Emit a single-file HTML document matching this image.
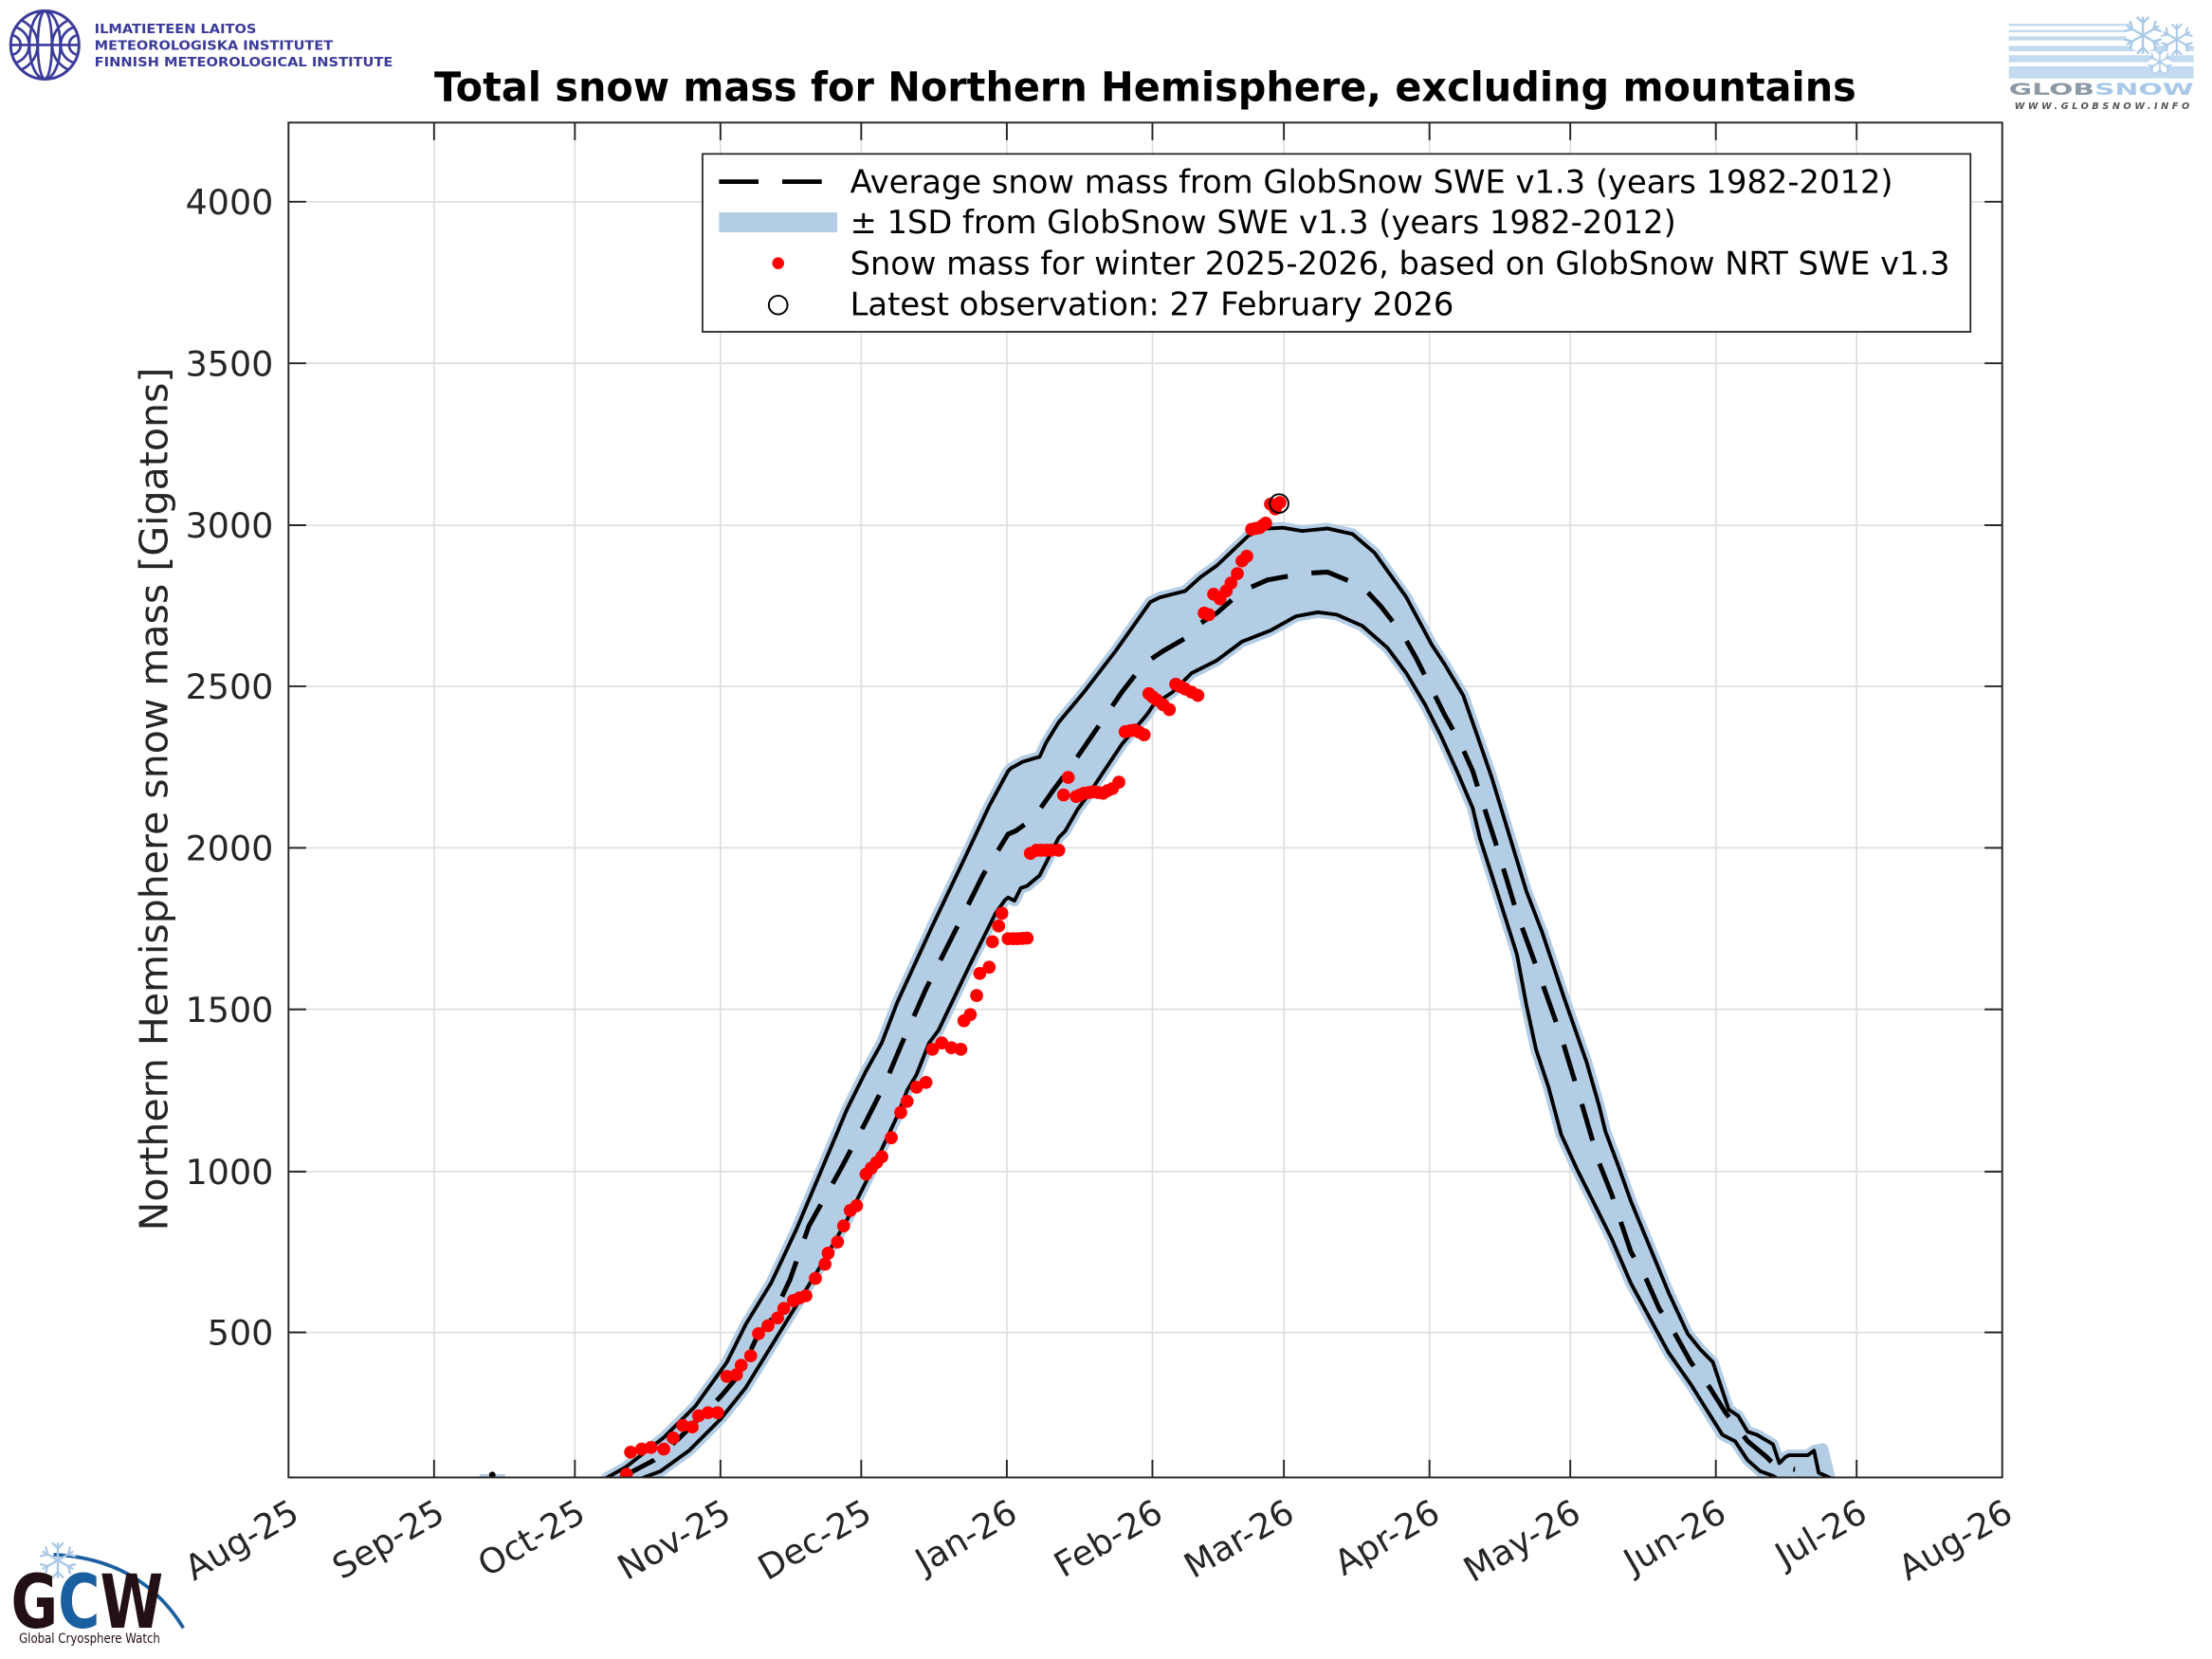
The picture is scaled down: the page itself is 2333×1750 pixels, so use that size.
<!DOCTYPE html>
<html><head><meta charset="utf-8">
<style>
html,body{margin:0;padding:0;background:#fff;}
svg{display:block;}
text{font-family:"DejaVu Sans","Liberation Sans",sans-serif;}
</style></head>
<body>
<svg xmlns="http://www.w3.org/2000/svg" width="2333" height="1750" viewBox="0 0 1568 1176" preserveAspectRatio="none">
<defs>
<clipPath id="plot"><rect x="204.5" y="86.9" width="1214.8" height="960.4"/></clipPath>
<clipPath id="fmi"><circle cx="31.8" cy="31.9" r="23.5"/></clipPath>
<g id="flake" fill="none" stroke="#a9c9e8" stroke-width="1.3" stroke-linecap="round">
<path d="M0,-10V10M-8.66,-5L8.66,5M-8.66,5L8.66,-5"/>
<path d="M-3,-10L0,-7L3,-10M-3,10L0,7L3,10M-10.1,-2.4L-6.1,-3.5L-7.1,-7.6M10.1,2.4L6.1,3.5L7.1,7.6M-10.1,2.4L-6.1,3.5L-7.1,7.6M10.1,-2.4L6.1,-3.5L7.1,-7.6"/>
</g>
</defs>
<rect x="0" y="0" width="1568" height="1176" fill="#fff"/>

<!-- FMI logo -->
<g fill="none" stroke="#3b3b9b" stroke-width="2">
<circle cx="31.8" cy="31.9" r="24.2"/>
<g clip-path="url(#fmi)" stroke-width="1.8">
<circle cx="7.6" cy="31.9" r="7"/><circle cx="7.6" cy="31.9" r="13"/><circle cx="7.6" cy="31.9" r="19"/>
<circle cx="56" cy="31.9" r="7"/><circle cx="56" cy="31.9" r="13"/><circle cx="56" cy="31.9" r="19"/>
<ellipse cx="31.8" cy="31.9" rx="5" ry="24"/><ellipse cx="31.8" cy="31.9" rx="11" ry="24"/>
<line x1="7" y1="31.9" x2="57" y2="31.9"/>
</g></g>
<g fill="#3b3b9b" font-weight="bold" font-size="9.2">
<text x="67" y="23.5" textLength="114.7" lengthAdjust="spacingAndGlyphs">ILMATIETEEN LAITOS</text>
<text x="67" y="35.4" textLength="169" lengthAdjust="spacingAndGlyphs">METEOROLOGISKA INSTITUTET</text>
<text x="67" y="47" textLength="211.5" lengthAdjust="spacingAndGlyphs">FINNISH METEOROLOGICAL INSTITUTE</text>
</g>

<!-- GlobSnow logo -->
<g fill="#c3daf0">
<rect x="1424" y="16.8" width="92" height="1.6"/>
<rect x="1424" y="21.3" width="92" height="1.6"/>
<rect x="1424" y="25.7" width="95" height="3"/>
<rect x="1424" y="32.5" width="131" height="3.8"/>
<rect x="1424" y="39.2" width="131" height="4.9"/>
<rect x="1424" y="47" width="131" height="8.6"/>
</g>
<g fill="#fff">
<circle cx="1519" cy="25" r="12"/><circle cx="1543" cy="28" r="10"/><circle cx="1531" cy="44" r="8"/>
</g>
<use href="#flake" transform="translate(1519,25) scale(1.25)"/>
<use href="#flake" transform="translate(1543,28) scale(1.05)"/>
<use href="#flake" transform="translate(1531,44) scale(0.8)"/>
<text x="1424" y="67.2" font-size="11.5" font-weight="bold" textLength="131" lengthAdjust="spacingAndGlyphs"><tspan fill="#8c9aa6">GLOB</tspan><tspan fill="#a7c8e8">SNOW</tspan></text>
<text x="1428" y="77.3" font-size="6.5" font-style="italic" font-weight="bold" fill="#555" textLength="124" lengthAdjust="spacing">WWW.GLOBSNOW.INFO</text>

<!-- GCW logo -->
<path d="M38,1102 Q100,1105 130,1154" fill="none" stroke="#1a5fa0" stroke-width="2.5"/>
<use href="#flake" transform="translate(41,1106) scale(1.2)" style="stroke:#8a98d0"/>
<text x="7.7" y="1153.7" font-family="Liberation Sans, sans-serif" font-weight="bold" font-size="53" textLength="108" lengthAdjust="spacingAndGlyphs"><tspan fill="#231014">G</tspan><tspan fill="#1a5fa0">C</tspan><tspan fill="#231014">W</tspan></text>
<text x="13.5" y="1164.5" font-family="Liberation Sans, sans-serif" font-size="9.5" fill="#231014" textLength="100" lengthAdjust="spacingAndGlyphs">Global Cryosphere Watch</text>

<!-- Title -->
<text x="307.8" y="71.7" font-size="28.5" font-weight="bold" fill="#000" textLength="1008" lengthAdjust="spacingAndGlyphs">Total snow mass for Northern Hemisphere, excluding mountains</text>

<!-- Plot background -->
<rect x="204.5" y="86.9" width="1214.8" height="960.4" fill="#fff"/>

<!-- Grid -->
<g stroke="#dedede" stroke-width="1.1">
<line x1="307.7" y1="86.9" x2="307.7" y2="1047.3"/>
<line x1="407.5" y1="86.9" x2="407.5" y2="1047.3"/>
<line x1="510.7" y1="86.9" x2="510.7" y2="1047.3"/>
<line x1="610.5" y1="86.9" x2="610.5" y2="1047.3"/>
<line x1="713.7" y1="86.9" x2="713.7" y2="1047.3"/>
<line x1="816.9" y1="86.9" x2="816.9" y2="1047.3"/>
<line x1="910.1" y1="86.9" x2="910.1" y2="1047.3"/>
<line x1="1013.3" y1="86.9" x2="1013.3" y2="1047.3"/>
<line x1="1113.1" y1="86.9" x2="1113.1" y2="1047.3"/>
<line x1="1216.3" y1="86.9" x2="1216.3" y2="1047.3"/>
<line x1="1316.1" y1="86.9" x2="1316.1" y2="1047.3"/>
<line x1="204.5" y1="944.5" x2="1419.3" y2="944.5"/>
<line x1="204.5" y1="830.5" x2="1419.3" y2="830.5"/>
<line x1="204.5" y1="715.5" x2="1419.3" y2="715.5"/>
<line x1="204.5" y1="601" x2="1419.3" y2="601"/>
<line x1="204.5" y1="486.5" x2="1419.3" y2="486.5"/>
<line x1="204.5" y1="372.3" x2="1419.3" y2="372.3"/>
<line x1="204.5" y1="257.5" x2="1419.3" y2="257.5"/>
<line x1="204.5" y1="143" x2="1419.3" y2="143"/>
</g>

<!-- Data -->
<g clip-path="url(#plot)">
<polygon fill="#b3cde4" stroke="#b3cde4" stroke-width="8" stroke-linejoin="round" points="430.1,1047.5 443.6,1040 470.5,1019 492.8,996.9 515.3,965.6 528.7,938.7 546.6,909.5 564.5,871.5 582.5,828.9 600.4,786.3 613.8,759.4 625,739.3 636.2,710.2 660.9,656.4 683.3,609.4 701.2,571.3 714.6,546.6 716.9,544.4 725,540 732.6,537.7 737,536.5 741.5,526.5 750.5,512 768.4,490.6 790.8,461.5 815.4,426.8 822,423.5 831.2,421.2 840,419 851.3,408.9 862.5,401 885,379.7 896.1,374.8 909.5,374.1 923,376.4 941,374.6 958.8,378.6 974.5,392 996.9,423.4 1014.9,457 1023.8,470.5 1037.2,492.9 1047,521 1057.4,551.1 1082,631.8 1093.2,660.9 1108.9,707.9 1124.6,752.7 1133.6,784.1 1138,802 1147,826 1156,851.3 1171.7,889.4 1182.8,916.3 1196.3,945.4 1205.3,956.6 1214.2,965.6 1225.4,999.2 1232.1,1003.6 1238.8,1014.9 1245.5,1017.1 1256.8,1023.8 1261.3,1037.2 1265.7,1032.8 1268,1031.6 1281.4,1031.6 1285.9,1028.3 1292,1027 1297.1,1047.5 1259,1047.5 1256.8,1046.2 1247.8,1042.9 1238.8,1035 1229.9,1021.6 1221,1017.1 1209.7,999.2 1198.5,981.2 1182.8,958.8 1169.4,934.2 1156,909.5 1142.5,878.2 1130,853 1117.9,828.9 1106.7,804.3 1097.7,770.7 1088.8,743.8 1082,712.4 1075.3,676.6 1059.7,627.3 1049,594 1044,573 1032.8,546.6 1021.6,522 1010.3,499.6 996.9,477.2 983.5,459.2 965.6,443.6 947.6,435.7 934.2,434 918.5,436.9 900.6,446.9 880.4,454.8 862.5,468.2 844.6,477.2 831.2,490.6 817.7,499.6 813.2,506.3 795.3,527.5 779.6,551.1 770.7,564.5 764,573.5 755,589.2 750.5,593.7 743.8,607.1 737,620.5 728.1,628 723.6,629.5 719.1,638.5 714.6,636.2 712.4,638 705.7,647.4 687.8,683.3 665.3,730.3 658.6,739.3 649.7,761.7 643,773 636.2,790.8 618.3,828.9 600.4,864.8 582.5,896.1 564.5,925.3 546.6,954.4 528.7,983.5 510.8,1005.9 488.4,1028.3 468.2,1042.9 455.9,1047.5"/>
<line x1="340" y1="1046.5" x2="358" y2="1046.5" stroke="#b3cde4" stroke-width="3"/>
<circle cx="349" cy="1045.5" r="2.3" fill="#000"/>

<g fill="none" stroke="#000" stroke-width="2.6" stroke-linejoin="round" stroke-linecap="round">
<polyline points="430.1,1047.5 443.6,1040 470.5,1019 492.8,996.9 515.3,965.6 528.7,938.7 546.6,909.5 564.5,871.5 582.5,828.9 600.4,786.3 613.8,759.4 625,739.3 636.2,710.2 660.9,656.4 683.3,609.4 701.2,571.3 714.6,546.6 716.9,544.4 725,540 732.6,537.7 737,536.5 741.5,526.5 750.5,512 768.4,490.6 790.8,461.5 815.4,426.8 822,423.5 831.2,421.2 840,419 851.3,408.9 862.5,401 885,379.7 896.1,374.8 909.5,374.1 923,376.4 941,374.6 958.8,378.6 974.5,392 996.9,423.4 1014.9,457 1023.8,470.5 1037.2,492.9 1047,521 1057.4,551.1 1082,631.8 1093.2,660.9 1108.9,707.9 1124.6,752.7 1133.6,784.1 1138,802 1147,826 1156,851.3 1171.7,889.4 1182.8,916.3 1196.3,945.4 1205.3,956.6 1214.2,965.6 1225.4,999.2 1232.1,1003.6 1238.8,1014.9 1245.5,1017.1 1256.8,1023.8 1261.3,1037.2 1265.7,1032.8 1268,1031.6 1281.4,1031.6 1285.9,1028.3 1289.2,1044 1297.1,1047.5"/>
<polyline points="455.9,1047.5 468.2,1042.9 488.4,1028.3 510.8,1005.9 528.7,983.5 546.6,954.4 564.5,925.3 582.5,896.1 600.4,864.8 618.3,828.9 636.2,790.8 643,773 649.7,761.7 658.6,739.3 665.3,730.3 687.8,683.3 705.7,647.4 712.4,638 714.6,636.2 719.1,638.5 723.6,629.5 728.1,628 737,620.5 743.8,607.1 750.5,593.7 755,589.2 764,573.5 770.7,564.5 779.6,551.1 795.3,527.5 813.2,506.3 817.7,499.6 831.2,490.6 844.6,477.2 862.5,468.2 880.4,454.8 900.6,446.9 918.5,436.9 934.2,434 947.6,435.7 965.6,443.6 983.5,459.2 996.9,477.2 1010.3,499.6 1021.6,522 1032.8,546.6 1044,573 1049,594 1059.7,627.3 1075.3,676.6 1082,712.4 1088.8,743.8 1097.7,770.7 1106.7,804.3 1117.9,828.9 1130,853 1142.5,878.2 1156,909.5 1169.4,934.2 1182.8,958.8 1198.5,981.2 1209.7,999.2 1221,1017.1 1229.9,1021.6 1238.8,1035 1247.8,1042.9 1256.8,1046.2 1259,1047.5"/>
</g>
<polyline fill="none" stroke="#000" stroke-width="3.4" stroke-dasharray="27 17" points="440,1047.5 463.7,1035 481.7,1019.3 510.8,990 524,974.5 537.7,945.4 546.5,936 560,907 573.4,869 595.9,828.8 613.8,795 627.3,768.3 638.5,741.5 656.4,701 676.6,660.8 696.7,620.5 714.5,591.4 720,589 732.6,580 746,561 757.2,546 770.7,526.5 795.2,490.6 811,470.5 824.4,461.5 840,452.5 844.6,445.8 862.5,434.6 880.4,419 898.4,411.1 923,406.6 941,405.5 965.6,415.6 979,430 994.7,450.3 1003.6,466 1014.9,488.4 1023.8,506.3 1035,526.4 1044,546.6 1050,566 1059.7,595.9 1075.3,647.4 1093.2,696.7 1106.7,734.8 1122.4,786.3 1133.6,824.4 1142.5,846.8 1149.2,867 1156,887.2 1167.2,907.3 1176.1,927.5 1187.3,945.4 1198.5,965.6 1211.9,983.5 1223.2,1001.4 1232.1,1012.6 1238.8,1021.6 1252.3,1032.8 1259,1039.5 1272.4,1041.7"/>

<g fill="#ff0000">
<circle cx="444" cy="1045" r="4.6"/><circle cx="447" cy="1029.4" r="4.6"/><circle cx="454.8" cy="1027.2" r="4.6"/><circle cx="461.5" cy="1026" r="4.6"/><circle cx="470.5" cy="1027.2" r="4.6"/><circle cx="477.2" cy="1019.3" r="4.6"/><circle cx="484" cy="1010.4" r="4.6"/><circle cx="490.7" cy="1011.5" r="4.6"/><circle cx="495.2" cy="1003.6" r="4.6"/><circle cx="501.9" cy="1001.4" r="4.6"/><circle cx="508.6" cy="1001.4" r="4.6"/><circle cx="515.3" cy="975.7" r="4.6"/><circle cx="522" cy="974.5" r="4.6"/><circle cx="525.4" cy="967.8" r="4.6"/><circle cx="532.1" cy="961.1" r="4.6"/><circle cx="537.7" cy="945.4" r="4.6"/><circle cx="544.4" cy="939.8" r="4.6"/><circle cx="551.2" cy="934.2" r="4.6"/><circle cx="555.6" cy="927.5" r="4.6"/><circle cx="562.4" cy="921.9" r="4.6"/><circle cx="566.8" cy="920" r="4.6"/><circle cx="571.3" cy="918.5" r="4.6"/><circle cx="578" cy="906.2" r="4.6"/><circle cx="584.8" cy="896.1" r="4.6"/><circle cx="587" cy="888.3" r="4.6"/><circle cx="593.7" cy="880.4" r="4.6"/><circle cx="598" cy="869" r="4.6"/><circle cx="602.7" cy="858" r="4.6"/><circle cx="607.2" cy="854.7" r="4.6"/><circle cx="613.9" cy="832.3" r="4.6"/><circle cx="617.6" cy="828" r="4.6"/><circle cx="621.4" cy="824" r="4.6"/><circle cx="625.1" cy="820" r="4.6"/><circle cx="631.8" cy="806.5" r="4.6"/><circle cx="638.5" cy="788.6" r="4.6"/><circle cx="643" cy="780.7" r="4.6"/><circle cx="649.7" cy="770.7" r="4.6"/><circle cx="656.4" cy="767.3" r="4.6"/><circle cx="661" cy="743.8" r="4.6"/><circle cx="667.6" cy="739.3" r="4.6"/><circle cx="674.4" cy="742.7" r="4.6"/><circle cx="681.1" cy="743.8" r="4.6"/><circle cx="683.3" cy="723.6" r="4.6"/><circle cx="687.8" cy="719.2" r="4.6"/><circle cx="692.3" cy="705.7" r="4.6"/><circle cx="694.5" cy="690" r="4.6"/><circle cx="701.2" cy="685.6" r="4.6"/><circle cx="703.5" cy="667.6" r="4.6"/><circle cx="707.9" cy="656.4" r="4.6"/><circle cx="710.2" cy="647.4" r="4.6"/><circle cx="714.6" cy="665.4" r="4.6"/><circle cx="718" cy="665.4" r="4.6"/><circle cx="721.4" cy="665.4" r="4.6"/><circle cx="724.8" cy="665.2" r="4.6"/><circle cx="728.1" cy="665" r="4.6"/><circle cx="730.4" cy="604.9" r="4.6"/><circle cx="734.8" cy="602.7" r="4.6"/><circle cx="738" cy="602.7" r="4.6"/><circle cx="741.6" cy="602.7" r="4.6"/><circle cx="745" cy="602.7" r="4.6"/><circle cx="750.5" cy="602.7" r="4.6"/><circle cx="753.9" cy="563.5" r="4.6"/><circle cx="757.2" cy="551.1" r="4.6"/><circle cx="762.9" cy="564.6" r="4.6"/><circle cx="765.5" cy="563.5" r="4.6"/><circle cx="768.4" cy="562.3" r="4.6"/><circle cx="771.8" cy="561.8" r="4.6"/><circle cx="775.2" cy="561.2" r="4.6"/><circle cx="778.5" cy="561.8" r="4.6"/><circle cx="781.9" cy="562.3" r="4.6"/><circle cx="785" cy="560.5" r="4.6"/><circle cx="788.6" cy="559" r="4.6"/><circle cx="793.1" cy="554.5" r="4.6"/><circle cx="797.6" cy="518.7" r="4.6"/><circle cx="801" cy="518" r="4.6"/><circle cx="804.3" cy="517.5" r="4.6"/><circle cx="807.5" cy="519" r="4.6"/><circle cx="811" cy="520.9" r="4.6"/><circle cx="814.4" cy="491.7" r="4.6"/><circle cx="817" cy="494" r="4.6"/><circle cx="820" cy="496.2" r="4.6"/><circle cx="824.5" cy="499.6" r="4.6"/><circle cx="828.9" cy="503" r="4.6"/><circle cx="833.4" cy="485" r="4.6"/><circle cx="836.8" cy="486.7" r="4.6"/><circle cx="840.1" cy="488.4" r="4.6"/><circle cx="844.6" cy="490.6" r="4.6"/><circle cx="849.1" cy="492.9" r="4.6"/><circle cx="853.6" cy="434.6" r="4.6"/><circle cx="856.9" cy="435.7" r="4.6"/><circle cx="860.3" cy="421.2" r="4.6"/><circle cx="864.8" cy="424.5" r="4.6"/><circle cx="869.2" cy="418.9" r="4.6"/><circle cx="872.6" cy="413.3" r="4.6"/><circle cx="877.1" cy="406.6" r="4.6"/><circle cx="880.4" cy="397.6" r="4.6"/><circle cx="883.8" cy="394.3" r="4.6"/><circle cx="887.2" cy="375.2" r="4.6"/><circle cx="890" cy="374.6" r="4.6"/><circle cx="892.8" cy="374.1" r="4.6"/><circle cx="894.9" cy="372.5" r="4.6"/><circle cx="897.2" cy="370.8" r="4.6"/><circle cx="900.6" cy="357.3" r="4.6"/><circle cx="904" cy="360.7" r="4.6"/><circle cx="907.3" cy="356.2" r="4.6"/>
</g>
<circle cx="906.7" cy="356.9" r="6.6" fill="none" stroke="#000" stroke-width="1.3"/>
</g>

<!-- Axes box and ticks -->
<g stroke="#262626" stroke-width="1.3" fill="none">
<rect x="204.5" y="86.9" width="1214.8" height="960.4"/>
<path d="M307.7,1047.3v-12.5M407.5,1047.3v-12.5M510.7,1047.3v-12.5M610.5,1047.3v-12.5M713.7,1047.3v-12.5M816.9,1047.3v-12.5M910.1,1047.3v-12.5M1013.3,1047.3v-12.5M1113.1,1047.3v-12.5M1216.3,1047.3v-12.5M1316.1,1047.3v-12.5"/>
<path d="M307.7,86.9v12.5M407.5,86.9v12.5M510.7,86.9v12.5M610.5,86.9v12.5M713.7,86.9v12.5M816.9,86.9v12.5M910.1,86.9v12.5M1013.3,86.9v12.5M1113.1,86.9v12.5M1216.3,86.9v12.5M1316.1,86.9v12.5"/>
<path d="M204.5,944.5h12.5M204.5,830.5h12.5M204.5,715.5h12.5M204.5,601h12.5M204.5,486.5h12.5M204.5,372.3h12.5M204.5,257.5h12.5M204.5,143h12.5"/>
<path d="M1419.3,944.5h-12.5M1419.3,830.5h-12.5M1419.3,715.5h-12.5M1419.3,601h-12.5M1419.3,486.5h-12.5M1419.3,372.3h-12.5M1419.3,257.5h-12.5M1419.3,143h-12.5"/>
</g>

<!-- Y tick labels -->
<g font-size="24.5" fill="#262626" text-anchor="end">
<text x="193.8" y="953.3">500</text>
<text x="193.8" y="839.3">1000</text>
<text x="193.8" y="724.3">1500</text>
<text x="193.8" y="609.8">2000</text>
<text x="193.8" y="495.3">2500</text>
<text x="193.8" y="381.1">3000</text>
<text x="193.8" y="266.3">3500</text>
<text x="193.8" y="151.8">4000</text>
</g>

<!-- X tick labels -->
<g font-size="24.5" fill="#262626" text-anchor="end">
<text transform="translate(213.5,1077) rotate(-30)">Aug-25</text>
<text transform="translate(316.7,1077) rotate(-30)">Sep-25</text>
<text transform="translate(416.5,1077) rotate(-30)">Oct-25</text>
<text transform="translate(519.7,1077) rotate(-30)">Nov-25</text>
<text transform="translate(619.5,1077) rotate(-30)">Dec-25</text>
<text transform="translate(722.7,1077) rotate(-30)">Jan-26</text>
<text transform="translate(825.9,1077) rotate(-30)">Feb-26</text>
<text transform="translate(919.1,1077) rotate(-30)">Mar-26</text>
<text transform="translate(1022.3,1077) rotate(-30)">Apr-26</text>
<text transform="translate(1122.1,1077) rotate(-30)">May-26</text>
<text transform="translate(1225.3,1077) rotate(-30)">Jun-26</text>
<text transform="translate(1325.1,1077) rotate(-30)">Jul-26</text>
<text transform="translate(1428.3,1077) rotate(-30)">Aug-26</text>
</g>

<!-- Y axis label -->
<text transform="translate(118.7,566.5) rotate(-90)" text-anchor="middle" font-size="27.6" fill="#262626" textLength="612" lengthAdjust="spacingAndGlyphs">Northern Hemisphere snow mass [Gigatons]</text>

<!-- Legend -->
<rect x="498" y="109.1" width="898.8" height="126.1" fill="#fff" stroke="#262626" stroke-width="1.2"/>
<line x1="509.7" y1="128.8" x2="582.5" y2="128.8" stroke="#000" stroke-width="3.2" stroke-dasharray="28 16.8"/>
<rect x="509.7" y="150.5" width="83.8" height="14.2" fill="#b3cde4"/>
<circle cx="551.6" cy="186.6" r="4.2" fill="#ff0000"/>
<circle cx="551.6" cy="216.2" r="6.6" fill="none" stroke="#000" stroke-width="1.3"/>
<g font-size="22.5" fill="#000">
<text x="602.6" y="136.7" textLength="739.3" lengthAdjust="spacingAndGlyphs">Average snow mass from GlobSnow SWE v1.3 (years 1982-2012)</text>
<text x="602.6" y="165.2" textLength="585.5" lengthAdjust="spacingAndGlyphs">± 1SD from GlobSnow SWE v1.3 (years 1982-2012)</text>
<text x="602.6" y="194.5" textLength="779.6" lengthAdjust="spacingAndGlyphs">Snow mass for winter 2025-2026, based on GlobSnow NRT SWE v1.3</text>
<text x="602.6" y="223.6" textLength="428" lengthAdjust="spacingAndGlyphs">Latest observation: 27 February 2026</text>
</g>
</svg>
</body></html>
